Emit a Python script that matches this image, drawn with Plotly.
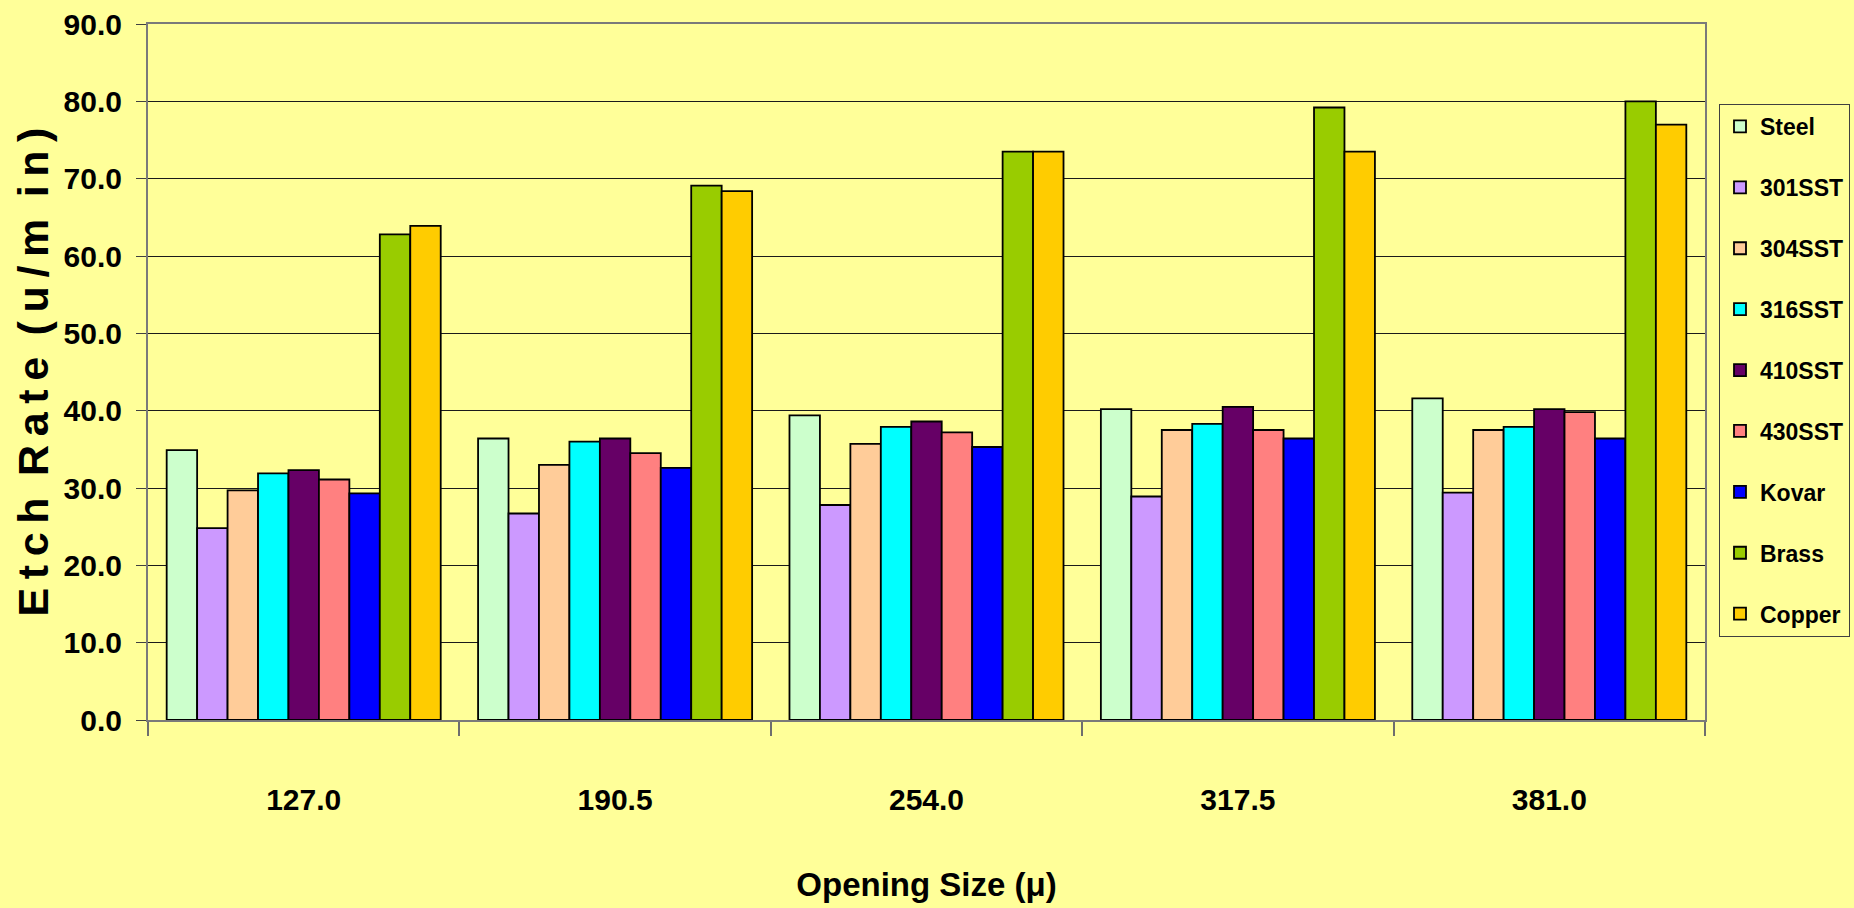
import plotly.graph_objects as go

# Opening sizes (microns) used as the x categories
openings = ["127.0", "190.5", "254.0", "317.5", "381.0"]

# Etch rate per material, one value per opening size (u/min)
steel = [34.9, 36.4, 39.4, 40.2, 41.6]
sst301 = [24.8, 26.7, 27.8, 28.9, 29.4]
sst304 = [29.7, 33.0, 35.7, 37.5, 37.5]
sst316 = [31.9, 36.0, 37.9, 38.3, 37.9]
sst410 = [32.3, 36.4, 38.6, 40.5, 40.2]
sst430 = [31.1, 34.5, 37.2, 37.5, 39.8]
kovar = [29.3, 32.6, 35.3, 36.4, 36.4]
brass = [62.8, 69.1, 73.5, 79.2, 80.0]
copper = [63.9, 68.4, 73.5, 73.5, 77.0]

materials = ["Steel", "301SST", "304SST", "316SST", "410SST", "430SST", "Kovar", "Brass", "Copper"]
series = [steel, sst301, sst304, sst316, sst410, sst430, kovar, brass, copper]
colors = ["#CCFFCC", "#CC99FF", "#FFCC99", "#00FFFF", "#660066",
          "#FF8080", "#0000FF", "#99CC00", "#FFCC00"]

FONT = "Liberation Sans, Arial, sans-serif"
BG = "#FFFF99"

fig = go.Figure()
for name, vals, col in zip(materials, series, colors):
    fig.add_trace(go.Bar(
        x=openings, y=vals, name=name, legendgroup=name,
        marker=dict(color=col, line=dict(color="#000000", width=1.8)),
    ))

# letter-spaced axis title
def spaced(words, gap="\u2009", word_gap="\u2002"):
    return word_gap.join(gap.join(w) for w in words)

y_title = spaced(["Etch", "Rate", "(u/m", "in)"])

fig.update_layout(
    width=1854, height=908,
    paper_bgcolor=BG, plot_bgcolor=BG,
    margin=dict(l=148, r=149, t=24, b=188),
    barmode="group", bargap=0.12, bargroupgap=0,
    font=dict(family=FONT, color="#000000", weight="bold"),
    showlegend=True,
    legend=dict(
        xref="container", yref="container",
        x=1719 / 1854, xanchor="left", y=1 - 104 / 908, yanchor="top",
        maxheight=640,
        bgcolor=BG, bordercolor="#404040", borderwidth=1,
        font=dict(size=23, family=FONT, weight="bold"),
        tracegroupgap=28, itemclick=False, itemwidth=30,
    ),
    xaxis=dict(
        type="category", tickson="boundaries", automargin=False,
        ticks="outside", ticklen=14, tickcolor="#6e6e6e", tickwidth=2,
        showline=True, linecolor="#7a7a7a", linewidth=2, mirror=True,
        showgrid=False,
        tickfont=dict(size=30, family=FONT, weight="bold"),
        ticklabelstandoff=52,
        title=dict(text="Opening Size (μ)", font=dict(size=33, family=FONT, weight="bold"),
                   standoff=58),
    ),
    yaxis=dict(
        range=[0, 90], dtick=10, tickformat=".1f", automargin=False,
        ticks="outside", ticklen=10, tickcolor="#404040", tickwidth=1,
        showline=True, linecolor="#7a7a7a", linewidth=2, mirror=True,
        showgrid=True, gridcolor="#1a1a1a", gridwidth=1,
        zeroline=False,
        tickfont=dict(size=30, family=FONT, weight="bold"),
        ticklabelstandoff=8,
        title=dict(text=y_title, font=dict(size=43, family=FONT, weight="bold"),
                   standoff=2),
    ),
)

fig.write_html("out.html")
